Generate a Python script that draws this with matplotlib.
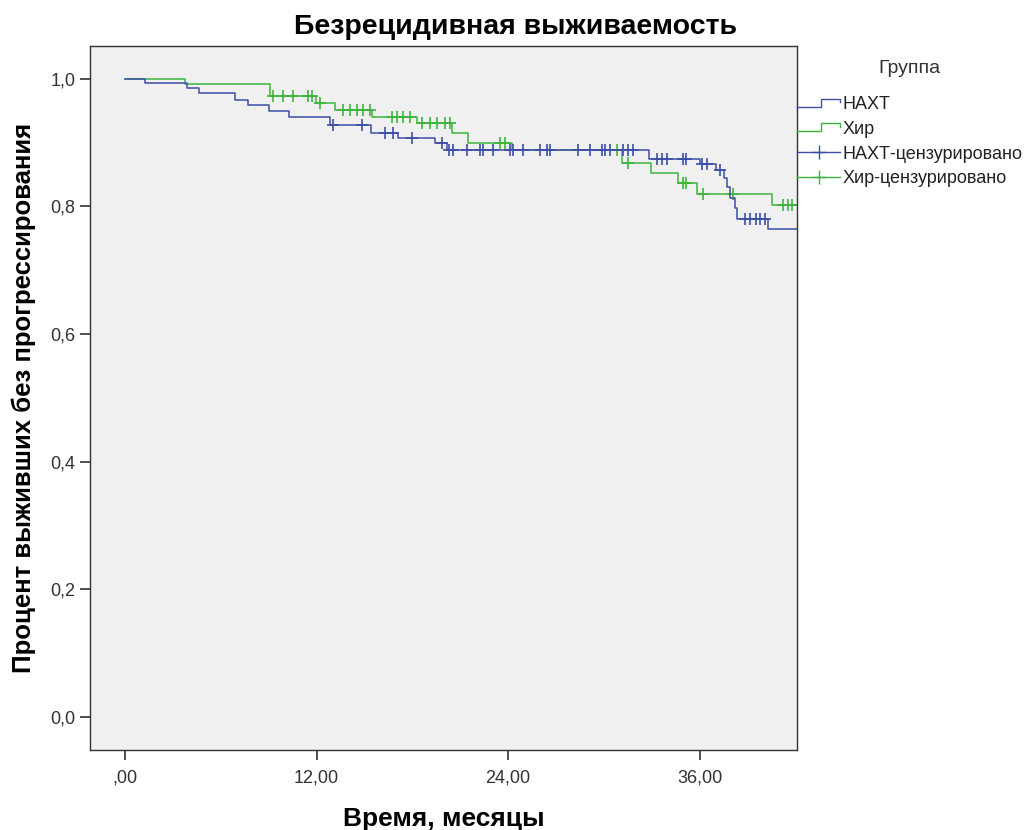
import numpy as np
import matplotlib
matplotlib.use("Agg")
import matplotlib.pyplot as plt
from matplotlib.lines import Line2D
from matplotlib.legend_handler import HandlerBase

plt.rcParams['font.family'] = ['Liberation Sans', 'DejaVu Sans']

# Kaplan-Meier steps (time in months, survival after the event)
naht_times = [0, 1.25, 3.9, 4.6, 6.9, 7.7, 9.0, 10.3, 12.85, 15.4, 17.1, 19.4, 20.2,
              32.8, 36.0, 37.0, 37.5, 37.7, 37.9, 38.2, 38.35, 40.3]
naht_surv = [1.0, 0.993, 0.985, 0.977, 0.967, 0.958, 0.949, 0.940, 0.927, 0.915, 0.907, 0.899, 0.888,
             0.874, 0.866, 0.857, 0.844, 0.830, 0.813, 0.797, 0.780, 0.765]
naht_censored = [13.0, 14.85, 16.3, 16.8, 18.0, 19.85, 20.3, 20.55, 21.4, 22.25, 22.45, 23.05,
                 24.1, 24.3, 24.95, 26.0, 26.45, 26.65, 28.4, 29.15, 29.9, 30.1, 30.4, 31.2,
                 31.5, 31.85, 33.35, 33.65, 33.95, 34.95, 35.15, 36.15, 36.45, 37.3, 38.85,
                 39.15, 39.5, 39.8, 40.1]
naht_end = 42.1

hir_times = [0, 3.76, 9.09, 11.97, 13.16, 15.48, 18.3, 20.5, 21.5, 24.25, 31.14, 32.96,
             34.65, 35.84, 40.54]
hir_surv = [1.0, 0.991, 0.973, 0.962, 0.951, 0.940, 0.930, 0.915, 0.899, 0.888, 0.868, 0.852,
            0.836, 0.819, 0.802]
hir_censored = [9.27, 9.9, 10.53, 11.47, 11.72, 12.22, 13.66, 14.1, 14.54, 14.91, 15.35,
                16.73, 17.04, 17.42, 17.86, 18.61, 19.11, 19.55, 20.05, 20.36, 23.5, 23.81,
                30.8, 31.52, 34.96, 35.15, 36.22, 38.1, 41.23, 41.54, 41.79]
hir_end = 42.1

labels = ['НАХТ', 'Хир', 'НАХТ-цензурировано', 'Хир-цензурировано']
colors = ['#3d4ea8', '#3cb43c']
xticks = [0, 12, 24, 36]
xticklabels = [',00', '12,00', '24,00', '36,00']
yticks = [0.0, 0.2, 0.4, 0.6, 0.8, 1.0]
yticklabels = ['0,0', '0,2', '0,4', '0,6', '0,8', '1,0']


def surv_at(times, surv, t):
    idx = np.searchsorted(times, t, side='right') - 1
    return np.array(surv)[idx]


class StepHandler(HandlerBase):
    # SPSS-like step icon for the survival lines
    def create_artists(self, legend, orig_handle, xdescent, ydescent, width, height,
                       fontsize, trans):
        lo = -ydescent + 0.2 * height
        hi = -ydescent + 0.85 * height
        x0 = -xdescent
        xs = [x0, x0 + 0.55 * width, x0 + 0.55 * width, x0 + width, x0 + width]
        ys = [lo, lo, hi, hi, 0.6 * hi + 0.4 * lo]
        line = Line2D(xs, ys, color=orig_handle.get_color(), lw=1.0, transform=trans)
        return [line]


fig = plt.figure(figsize=(10.3, 8.3), dpi=100)
ax = fig.add_axes([90 / 1030, 80 / 830, 707 / 1030, 704 / 830])
ax.set_facecolor('#f0f0f0')

groups = [(naht_times, naht_surv, naht_censored, naht_end),
          (hir_times, hir_surv, hir_censored, hir_end)]
# green under blue
for i in [1, 0]:
    t, s, c, end = groups[i]
    ax.step(t + [end], s + [s[-1]], where='post', color=colors[i], lw=1.1)
    ax.plot(c, surv_at(t, s, c), linestyle='none', marker='+', ms=9, mew=1.2,
            color=colors[i])

ax.set_xlim(-2.2, 42.1)
ax.set_ylim(-0.052, 1.051)
ax.set_xticks(xticks)
ax.set_xticklabels(xticklabels)
ax.set_yticks(yticks)
ax.set_yticklabels(yticklabels)
ax.tick_params(axis='both', direction='out', length=7, width=1.2, color='#333333',
               labelsize=13, labelcolor='#333333')
ax.tick_params(axis='x', pad=7)
for sp in ax.spines.values():
    sp.set_color('#333333')
    sp.set_linewidth(1.0)

ax.set_xlabel('Время, месяцы', fontsize=19, fontweight='bold', labelpad=15)
ax.set_ylabel('Процент выживших без прогрессирования', fontsize=18.5, fontweight='bold',
              labelpad=10)
fig.text(0.5, 1 - 27 / 830, 'Безрецидивная выживаемость', fontsize=20.5, fontweight='bold',
         ha='center', va='center')

h_step = [Line2D([], [], color=colors[0]), Line2D([], [], color=colors[1])]
h_cens = [Line2D([], [], color=colors[0], marker='+', ms=10, mew=1.0, lw=1.0),
          Line2D([], [], color=colors[1], marker='+', ms=10, mew=1.0, lw=1.0)]
leg = fig.legend(h_step + h_cens, labels, loc='upper left',
                 bbox_to_anchor=(797 / 1030, 1 - 60 / 830), frameon=False,
                 title='Группа', title_fontsize=14, fontsize=13,
                 handler_map={h_step[0]: StepHandler(), h_step[1]: StepHandler()},
                 handlelength=2.4, handletextpad=0.1, labelspacing=0.42,
                 borderaxespad=0, borderpad=0)
leg.get_title().set_color('#333333')
leg._legend_box.sep = 14
for txt in leg.get_texts():
    txt.set_color('#222222')

fig.savefig('out.png', dpi=100)
